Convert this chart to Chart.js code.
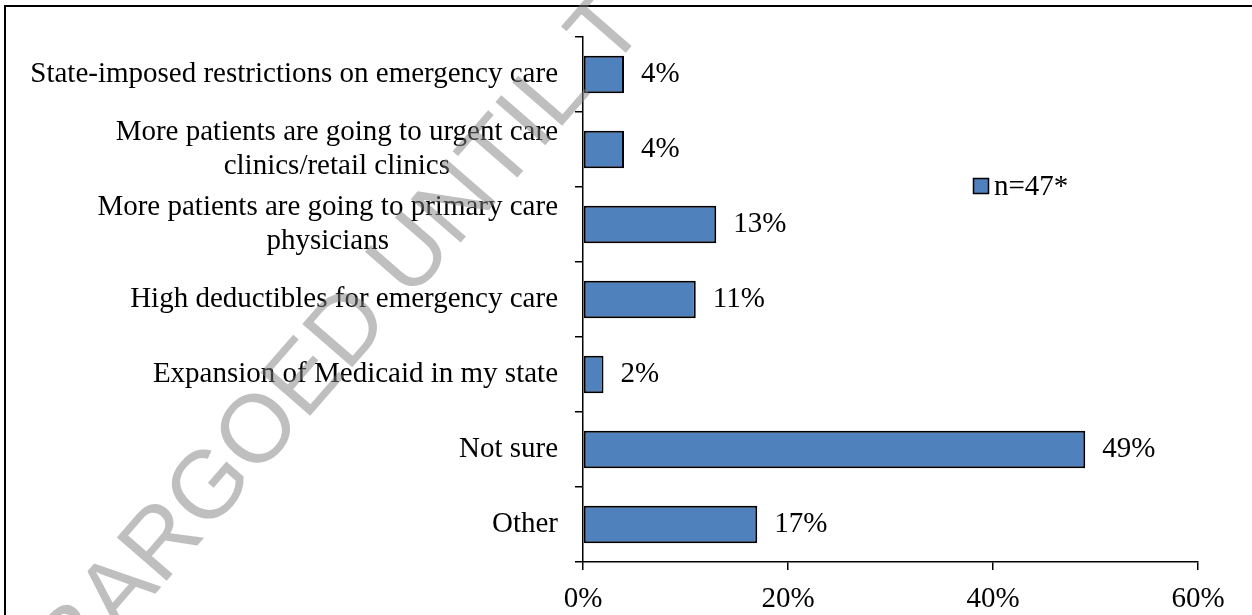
<!DOCTYPE html>
<html>
<head>
<meta charset="utf-8">
<script src="https://cdn.jsdelivr.net/npm/chart.js@4.4.1/dist/chart.umd.min.js"></script>
<style>
    html, body { margin: 0; padding: 0; background: #fff; }
    canvas { display: block; }
</style>
</head>
<body>
<canvas id="chartMotivos" width="1252" height="615"></canvas>
<script>
// ============================================================
//  Motivos de la baja en visitas a urgencias (barras horizontales)
// ============================================================

const CATEGORIAS = [
    ['State-imposed restrictions on emergency care'],
    ['More patients are going to urgent care', 'clinics/retail clinics'],
    ['More patients are going to primary care', 'physicians'],
    ['High deductibles for emergency care'],
    ['Expansion of Medicaid in my state'],
    ['Not sure'],
    ['Other'],
];
const VALORES = [4, 4, 13, 11, 2, 49, 17];
const ETIQUETA_SERIE = 'n=47*';
const TICKS_X = [0, 20, 40, 60];
const MARCA_AGUA = 'EMBARGOED UNTIL T';

const FUENTE = "'Liberation Serif', 'Times New Roman', serif";
const AZUL = '#4F81BD';

// Marco, etiquetas del eje Y (líneas centradas entre sí), valores, leyenda y marca de agua
const pluginDecoracion = {
    id: 'decoracion',
    beforeDraw(chart) {
        const ctx = chart.ctx;
        ctx.save();
        ctx.fillStyle = '#fff';
        ctx.fillRect(0, 0, chart.width, chart.height);
        ctx.strokeStyle = '#000';
        ctx.lineWidth = 2;
        ctx.strokeRect(5, 6, chart.width + 20, chart.height + 20);
        ctx.restore();
    },
    afterDraw(chart) {
        const ctx = chart.ctx;
        const escalaY = chart.scales.y;
        const area = chart.chartArea;

        ctx.save();
        ctx.font = `29px ${FUENTE}`;
        ctx.fillStyle = '#000';
        ctx.textBaseline = 'middle';

        // etiquetas de categoría
        const alturaLinea = 34;
        const bordeDerecho = area.left - 25;
        CATEGORIAS.forEach((lineas, i) => {
            const yc = escalaY.getPixelForValue(i);
            const anchoMax = Math.max(...lineas.map(l => ctx.measureText(l).width));
            const centroX = bordeDerecho - anchoMax / 2;
            ctx.textAlign = 'center';
            lineas.forEach((l, j) => {
                const y = yc + (j - (lineas.length - 1) / 2) * alturaLinea;
                ctx.fillText(l, centroX, y);
            });
        });

        // valores al final de cada barra
        ctx.textAlign = 'left';
        chart.getDatasetMeta(0).data.forEach((barra, i) => {
            ctx.fillText(`${VALORES[i]}%`, barra.x + 17, barra.y);
        });

        // leyenda
        ctx.fillStyle = AZUL;
        ctx.fillRect(973, 178, 16, 16);
        ctx.strokeStyle = '#000';
        ctx.lineWidth = 1.5;
        ctx.strokeRect(973.5, 178.5, 15, 15);
        ctx.fillStyle = '#000';
        ctx.fillText(chart.data.datasets[0].label, 994, 187);

        // marca de agua semitransparente por encima de todo
        ctx.translate(-17, 792);
        ctx.rotate(-49 * Math.PI / 180);
        ctx.font = "96px 'Liberation Sans', Arial, sans-serif";
        ctx.textBaseline = 'alphabetic';
        ctx.fillStyle = 'rgba(127,127,127,0.5)';
        ctx.fillText(MARCA_AGUA, 0, 0);
        ctx.restore();
    },
};

new Chart(document.getElementById('chartMotivos').getContext('2d'), {
    type: 'bar',
    data: {
        labels: CATEGORIAS,
        datasets: [{
            label: ETIQUETA_SERIE,
            data: VALORES,
            backgroundColor: AZUL,
            borderColor: '#000',
            borderWidth: 2,
            borderSkipped: false,
            categoryPercentage: 1,
            barPercentage: 0.5,
        }],
    },
    options: {
        indexAxis: 'y',
        responsive: false,
        animation: false,
        layout: { padding: { top: 37, right: 54, bottom: 0, left: 0 } },
        plugins: {
            legend: { display: false },
            tooltip: { enabled: false },
        },
        scales: {
            x: {
                min: 0,
                max: 60,
                afterBuildTicks: (escala) => { escala.ticks = TICKS_X.map(v => ({ value: v })); },
                afterFit: (escala) => { escala.height = 53; },
                grid: { drawOnChartArea: false, tickLength: 8, color: '#000', lineWidth: 1.5 },
                border: { color: '#000', width: 1.5 },
                ticks: {
                    padding: 12,
                    color: '#000',
                    font: { family: FUENTE, size: 29 },
                    callback: (v) => `${v}%`,
                },
            },
            y: {
                afterFit: (escala) => { escala.width = 583; },
                grid: { drawOnChartArea: false, tickLength: 8, color: '#000', lineWidth: 1.5 },
                border: { color: '#000', width: 1.5 },
                ticks: { display: false },
            },
        },
    },
    plugins: [pluginDecoracion],
});
</script>
</body>
</html>
